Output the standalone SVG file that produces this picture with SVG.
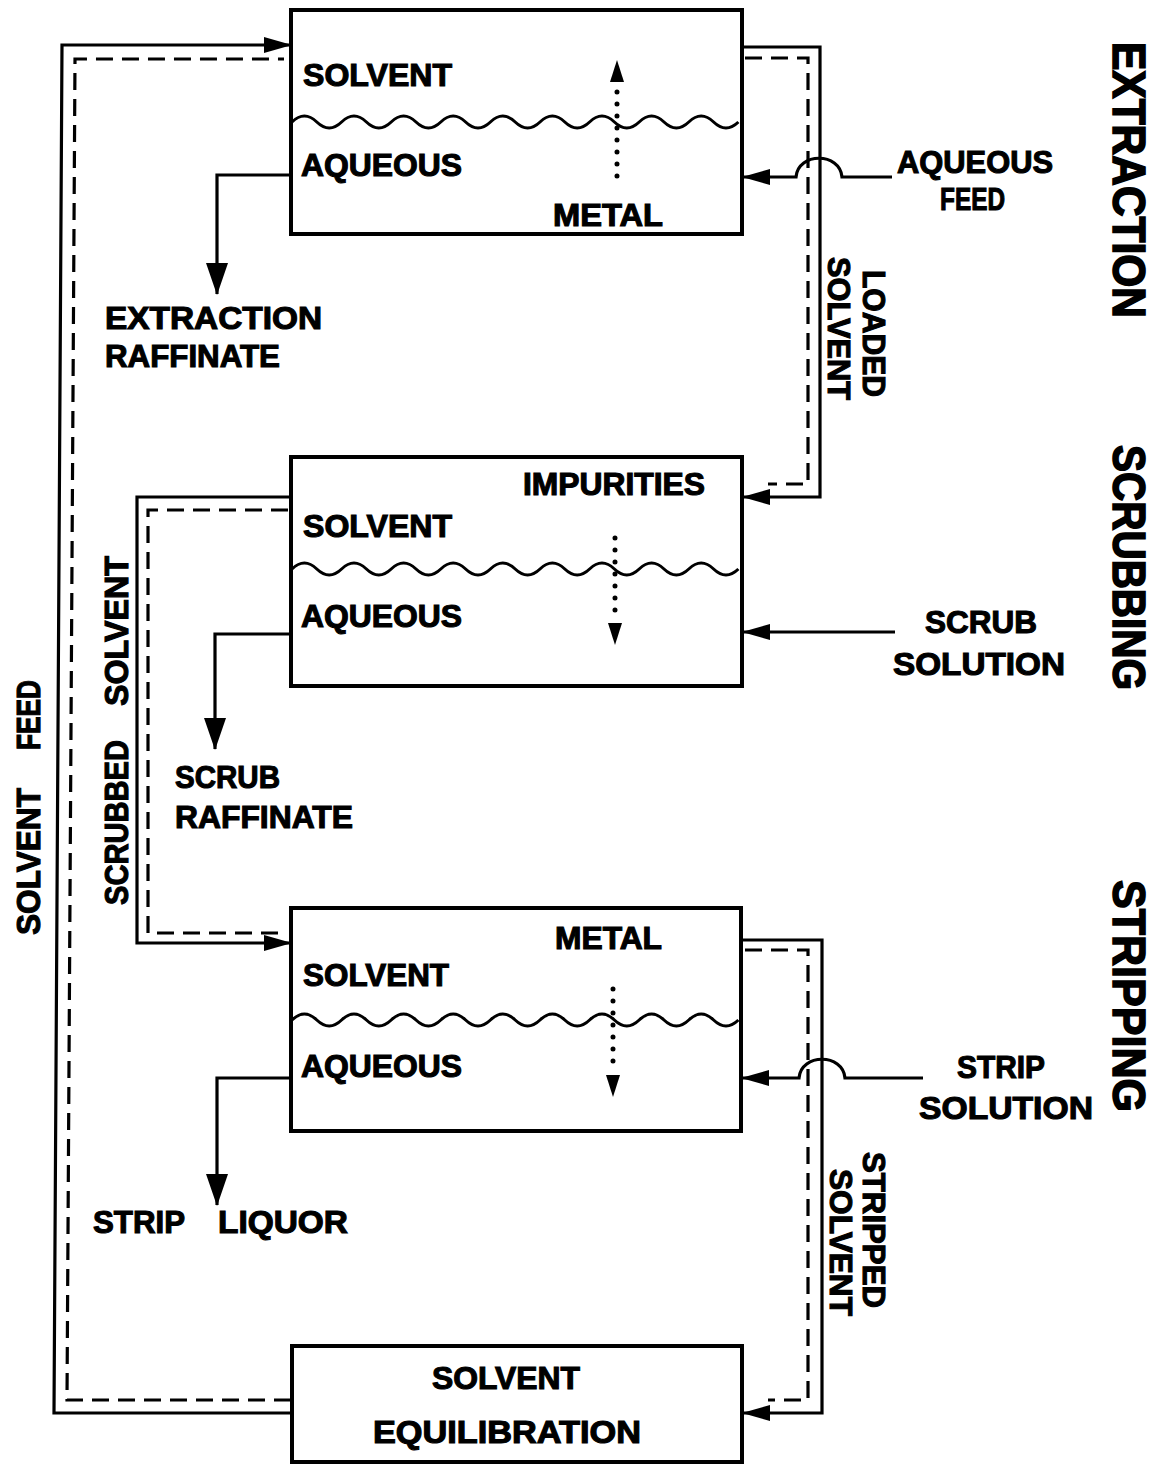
<svg xmlns="http://www.w3.org/2000/svg" width="1156" height="1464" viewBox="0 0 1156 1464">
<style>
.box{fill:none;stroke:#000;stroke-width:4}
.pipe{fill:none;stroke:#000;stroke-width:3.2}
.dash{fill:none;stroke:#000;stroke-width:3.2;stroke-dasharray:17 9}
.wave{fill:none;stroke:#000;stroke-width:3}
.dots{fill:none;stroke:#000;stroke-width:5;stroke-linecap:round;stroke-dasharray:0 12}
.t{font-family:"Liberation Sans",Arial,sans-serif;font-weight:bold;font-size:31px;fill:#000;stroke:#000;stroke-width:1.1}
.m{font-size:33px}
.big{font-size:46px;stroke-width:1.6}
</style>
<defs>
<marker id="ah" viewBox="0 0 32 22" refX="31" refY="11" markerWidth="32" markerHeight="22" markerUnits="userSpaceOnUse" orient="auto"><path d="M0,0 L32,11 L0,22 Z" fill="#000"/></marker>
<marker id="ahs" viewBox="0 0 28 16" refX="27" refY="8" markerWidth="28" markerHeight="16" markerUnits="userSpaceOnUse" orient="auto"><path d="M0,0 L28,8 L0,16 Z" fill="#000"/></marker>
<marker id="ahd" viewBox="0 0 22 14" refX="22" refY="7" markerWidth="22" markerHeight="14" markerUnits="userSpaceOnUse" orient="auto"><path d="M0,0 L22,7 L0,14 Z" fill="#000"/></marker>
</defs>
<rect width="1156" height="1464" fill="#fff"/>

<g id="extraction">
<rect class="box" x="291" y="10" width="451" height="224"/>
<text class="t" x="303" y="86" textLength="149" lengthAdjust="spacingAndGlyphs">SOLVENT</text>
<path class="wave" d="M292,122 q12.4,-12 24.8,0 t24.8,0 t24.8,0 t24.8,0 t24.8,0 t24.8,0 t24.8,0 t24.8,0 t24.8,0 t24.8,0 t24.8,0 t24.8,0 t24.8,0 t24.8,0 t24.8,0 t24.8,0 t24.8,0 t24.8,0"/>
<text class="t" x="301" y="176" textLength="161" lengthAdjust="spacingAndGlyphs">AQUEOUS</text>
<text class="t" x="553" y="226" textLength="110" lengthAdjust="spacingAndGlyphs">METAL</text>
<path class="dots" d="M617,176 V86"/>
<path d="M617,82 V60" stroke="none" marker-end="url(#ahd)"/>
</g>

<g id="scrubbing">
<rect class="box" x="291" y="457" width="451" height="229"/>
<text class="t" x="523" y="495" textLength="182" lengthAdjust="spacingAndGlyphs">IMPURITIES</text>
<text class="t" x="303" y="537" textLength="149" lengthAdjust="spacingAndGlyphs">SOLVENT</text>
<path class="wave" d="M292,569 q12.4,-12 24.8,0 t24.8,0 t24.8,0 t24.8,0 t24.8,0 t24.8,0 t24.8,0 t24.8,0 t24.8,0 t24.8,0 t24.8,0 t24.8,0 t24.8,0 t24.8,0 t24.8,0 t24.8,0 t24.8,0 t24.8,0"/>
<text class="t" x="301" y="627" textLength="161" lengthAdjust="spacingAndGlyphs">AQUEOUS</text>
<path class="dots" d="M615,538 V620"/>
<path d="M615,623 V645" stroke="none" marker-end="url(#ahd)"/>
</g>

<g id="stripping">
<rect class="box" x="291" y="908" width="450" height="223"/>
<text class="t" x="555" y="949" textLength="107" lengthAdjust="spacingAndGlyphs">METAL</text>
<text class="t" x="303" y="986" textLength="146" lengthAdjust="spacingAndGlyphs">SOLVENT</text>
<path class="wave" d="M292,1020 q12.4,-12 24.8,0 t24.8,0 t24.8,0 t24.8,0 t24.8,0 t24.8,0 t24.8,0 t24.8,0 t24.8,0 t24.8,0 t24.8,0 t24.8,0 t24.8,0 t24.8,0 t24.8,0 t24.8,0 t24.8,0 t24.8,0"/>
<text class="t" x="301" y="1077" textLength="161" lengthAdjust="spacingAndGlyphs">AQUEOUS</text>
<path class="dots" d="M613,989 V1071"/>
<path d="M613,1075 V1097" stroke="none" marker-end="url(#ahd)"/>
</g>

<g id="equilibration">
<rect class="box" x="292" y="1346" width="450" height="116"/>
<text class="t" x="506" y="1389" text-anchor="middle" textLength="148" lengthAdjust="spacingAndGlyphs">SOLVENT</text>
<text class="t" x="507" y="1443" text-anchor="middle" textLength="268" lengthAdjust="spacingAndGlyphs">EQUILIBRATION</text>
</g>

<g id="connectors">
<path class="pipe" d="M292,1413 H54 L62,45 H291" marker-end="url(#ahs)"/>
<path class="dash" d="M291,1400 H67 L75,59 H284"/>
<path class="pipe" d="M742,47 H820 V497 H743" marker-end="url(#ahs)"/>
<path class="dash" d="M745,58 H808 V484 H768"/>
<path class="pipe" d="M892,177 H842 C840,152 798,152 796,177 H743" marker-end="url(#ahs)"/>
<path class="pipe" d="M291,175 H217 V294" marker-end="url(#ah)"/>
<path class="pipe" d="M895,632 H743" marker-end="url(#ahs)"/>
<path class="pipe" d="M291,634 H215 V749" marker-end="url(#ah)"/>
<path class="pipe" d="M291,497 H137 V943 H291" marker-end="url(#ahs)"/>
<path class="dash" d="M288,510 H148 V933 H278"/>
<path class="pipe" d="M923,1078 H845 C843,1053 801,1053 799,1078 H742" marker-end="url(#ahs)"/>
<path class="pipe" d="M741,940 H822 V1413 H743" marker-end="url(#ahs)"/>
<path class="dash" d="M745,950 H808 V1400 H768"/>
<path class="pipe" d="M291,1078 H217 V1205" marker-end="url(#ah)"/>
</g>

<g id="labels">
<text class="t" x="105" y="329" textLength="217" lengthAdjust="spacingAndGlyphs">EXTRACTION</text>
<text class="t" x="105" y="367" textLength="175" lengthAdjust="spacingAndGlyphs">RAFFINATE</text>
<text class="t" x="175" y="788" textLength="105" lengthAdjust="spacingAndGlyphs">SCRUB</text>
<text class="t" x="175" y="828" textLength="178" lengthAdjust="spacingAndGlyphs">RAFFINATE</text>
<text class="t" x="93" y="1233" textLength="92" lengthAdjust="spacingAndGlyphs">STRIP</text>
<text class="t" x="218" y="1233" textLength="130" lengthAdjust="spacingAndGlyphs">LIQUOR</text>
<text class="t" x="897" y="173" textLength="156" lengthAdjust="spacingAndGlyphs">AQUEOUS</text>
<text class="t" x="940" y="210" textLength="65" lengthAdjust="spacingAndGlyphs">FEED</text>
<text class="t" x="925" y="633" textLength="112" lengthAdjust="spacingAndGlyphs">SCRUB</text>
<text class="t" x="893" y="675" textLength="172" lengthAdjust="spacingAndGlyphs">SOLUTION</text>
<text class="t" x="957" y="1078" textLength="88" lengthAdjust="spacingAndGlyphs">STRIP</text>
<text class="t" x="919" y="1119" textLength="174" lengthAdjust="spacingAndGlyphs">SOLUTION</text>
<text class="t" transform="translate(863,270) rotate(90)" textLength="127" lengthAdjust="spacingAndGlyphs">LOADED</text>
<text class="t" transform="translate(828,257) rotate(90)" textLength="143" lengthAdjust="spacingAndGlyphs">SOLVENT</text>
<text class="t" transform="translate(863,1152) rotate(90)" textLength="156" lengthAdjust="spacingAndGlyphs">STRIPPED</text>
<text class="t" transform="translate(830,1169) rotate(90)" textLength="147" lengthAdjust="spacingAndGlyphs">SOLVENT</text>
<text class="t m" transform="translate(40,935) rotate(-90)"><tspan x="0" textLength="147" lengthAdjust="spacingAndGlyphs">SOLVENT</tspan><tspan x="185" textLength="70" lengthAdjust="spacingAndGlyphs">FEED</tspan></text>
<text class="t m" transform="translate(128,905) rotate(-90)"><tspan x="0" textLength="165" lengthAdjust="spacingAndGlyphs">SCRUBBED</tspan><tspan x="199" textLength="150" lengthAdjust="spacingAndGlyphs">SOLVENT</tspan></text>
<text class="t big" transform="translate(1113,42) rotate(90)" textLength="276" lengthAdjust="spacingAndGlyphs">EXTRACTION</text>
<text class="t big" transform="translate(1113,445) rotate(90)" textLength="245" lengthAdjust="spacingAndGlyphs">SCRUBBING</text>
<text class="t big" transform="translate(1113,880) rotate(90)" textLength="232" lengthAdjust="spacingAndGlyphs">STRIPPING</text>
</g>
</svg>
